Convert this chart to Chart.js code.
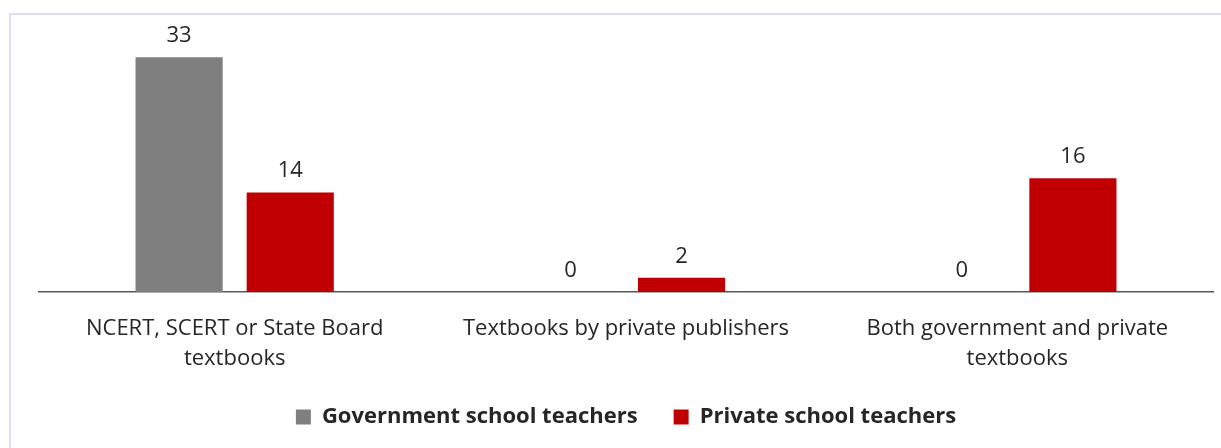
<!DOCTYPE html>
<html>
<head>
<meta charset="utf-8">
<script src="https://cdn.jsdelivr.net/npm/chart.js@4"></script>
<style>
  html, body { margin: 0; padding: 0; background: #ffffff; overflow: hidden; }
  #frame { position: absolute; left: 9px; top: 13px; width: 1240px; height: 460px;
           border: 2px solid #dcdef0; box-sizing: border-box; }
  #wrap { position: absolute; left: 0; top: 0; width: 1221px; height: 448px; }
</style>
</head>
<body>
<div id="frame"></div>
<div id="wrap"><canvas id="c" width="1221" height="448"></canvas></div>
<script>
// Textbook types used by teachers
const categories = [
  ["NCERT, SCERT or State Board", "textbooks"],
  "Textbooks by private publishers",
  ["Both government and private", "textbooks"]
];
const seriesNames = ["Government school teachers", "Private school teachers"];
const governmentValues = [33, 0, 0];
const privateValues = [14, 2, 16];

const FONT = "'Open Sans', 'Noto Sans', sans-serif";
const TEXT = "#262626";

// Writes each bar's value above its top edge
const valueLabels = {
  id: "valueLabels",
  afterDatasetsDraw(chart) {
    const ctx = chart.ctx;
    ctx.save();
    ctx.font = "22px " + FONT;
    ctx.fillStyle = TEXT;
    ctx.textAlign = "center";
    ctx.textBaseline = "alphabetic";
    chart.data.datasets.forEach((ds, i) => {
      chart.getDatasetMeta(i).data.forEach((bar, j) => {
        ctx.fillText(String(ds.data[j]), bar.x, bar.y - 15);
      });
    });
    ctx.restore();
  }
};

new Chart(document.getElementById("c"), {
  type: "bar",
  data: {
    labels: categories,
    datasets: [
      { label: seriesNames[0], data: governmentValues, backgroundColor: "#7f7f7f" },
      { label: seriesNames[1], data: privateValues, backgroundColor: "#c00000" }
    ]
  },
  options: {
    responsive: false,
    animation: false,
    devicePixelRatio: 1,
    layout: { padding: { left: 39, right: 8, top: 36, bottom: 10 } },
    datasets: { bar: { categoryPercentage: 0.568, barPercentage: 0.784 } },
    scales: {
      x: {
        grid: { display: false, drawTicks: false },
        border: { display: true, color: "#595959", width: 1.5 },
        ticks: {
          color: TEXT,
          font: { family: FONT, size: 22, lineHeight: 1.36 },
          padding: 22,
          maxRotation: 0,
          autoSkip: false
        },
        // trim the reserved band so the legend sits closer to the labels
        afterFit(scale) { scale.height = 78; }
      },
      y: {
        display: false,
        min: 0,
        max: 36
      }
    },
    plugins: {
      legend: {
        position: "bottom",
        labels: {
          color: TEXT,
          font: { family: FONT, size: 22, weight: "bold" },
          boxWidth: 15,
          boxHeight: 15,
          padding: 36
        }
      },
      tooltip: { enabled: false }
    }
  },
  plugins: [valueLabels]
});
</script>
</body>
</html>
